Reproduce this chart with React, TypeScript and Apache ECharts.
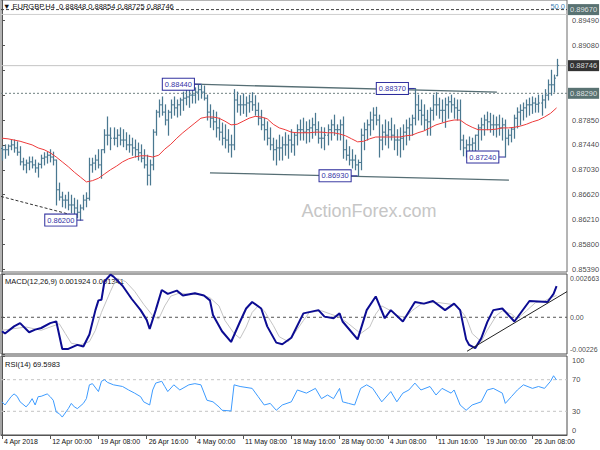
import React, { useEffect, useRef } from 'react';
import * as echarts from 'echarts';

// ---- x axis (one point = 8 hours = two H4 bars) ----
const tickLabels = ['4 Apr 2018', '12 Apr 00:00', '19 Apr 08:00', '26 Apr 16:00', '4 May 00:00', '11 May 08:00', '18 May 16:00', '28 May 00:00', '4 Jun 08:00', '11 Jun 16:00', '19 Jun 00:00', '26 Jun 08:00'];
const tickStep = 16;

// ---- price panel ----
const priceTicks = [0.8539, 0.858, 0.8621, 0.8662, 0.8703, 0.8744, 0.8785, 0.8826, 0.8867, 0.8908, 0.8949];
// labels of 0.88260 and 0.88670 sit under the price boxes in the reference
const priceLabelValues = [0.8539, 0.858, 0.8621, 0.8662, 0.8703, 0.8744, 0.8785, 0.8908, 0.8949];
const firstOpen = 0.8738;
const highs = [
  0.8741, 0.8744, 0.8744, 0.8752, 0.8752, 0.8749, 0.8741, 0.8722, 0.8719, 0.8724,
  0.8724, 0.8719, 0.8714, 0.8727, 0.8731, 0.8732, 0.8736, 0.8732, 0.8719, 0.8681,
  0.8666, 0.8661, 0.8666, 0.8661, 0.8656, 0.8653, 0.8645, 0.8661, 0.8665, 0.8722,
  0.8722, 0.8727, 0.8736, 0.8736, 0.8769, 0.879, 0.8772, 0.8772, 0.8769, 0.8772,
  0.8769, 0.8764, 0.876, 0.8755, 0.8752, 0.8747, 0.8744, 0.8736, 0.8727, 0.8719,
  0.8769, 0.8801, 0.8818, 0.8823, 0.881, 0.8801, 0.8818, 0.8823, 0.8818, 0.8821,
  0.8831, 0.8835, 0.8838, 0.8839, 0.8838, 0.8843, 0.8844, 0.8841, 0.8826, 0.881,
  0.8801, 0.8798, 0.8788, 0.878, 0.8777, 0.8769, 0.876, 0.8835, 0.8831, 0.8825,
  0.8828, 0.8823, 0.8826, 0.883, 0.8825, 0.8813, 0.8801, 0.8788, 0.8782, 0.8772,
  0.8755, 0.8752, 0.876, 0.8757, 0.8764, 0.876, 0.8769, 0.8764, 0.8777, 0.8785,
  0.8788, 0.8782, 0.8785, 0.8788, 0.8796, 0.8782, 0.8773, 0.8772, 0.8777, 0.8785,
  0.8793, 0.8777, 0.8785, 0.879, 0.8752, 0.8741, 0.8736, 0.8727, 0.8719, 0.877,
  0.878, 0.8785, 0.8798, 0.8805, 0.8806, 0.8793, 0.8777, 0.8785, 0.8782, 0.8788,
  0.8777, 0.8769, 0.8772, 0.8777, 0.8785, 0.8788, 0.8793, 0.8837, 0.8826, 0.8818,
  0.881, 0.8801, 0.8805, 0.8826, 0.883, 0.8821, 0.8818, 0.8821, 0.8823, 0.8826,
  0.8821, 0.8818, 0.8818, 0.876, 0.8752, 0.8757, 0.8755, 0.876, 0.8777, 0.8788,
  0.8793, 0.8798, 0.8796, 0.8793, 0.879, 0.8793, 0.8788, 0.8785, 0.8769, 0.8772,
  0.8793, 0.8805, 0.881, 0.8813, 0.8818, 0.8821, 0.8823, 0.8821, 0.8826, 0.8826,
  0.8835, 0.8851, 0.8867, 0.8859, 0.8885,
];
const lows = [
  0.8719, 0.8722, 0.8727, 0.8736, 0.8732, 0.8727, 0.8711, 0.8703, 0.8698, 0.8703,
  0.8706, 0.8699, 0.8691, 0.8706, 0.8711, 0.8714, 0.8716, 0.8711, 0.8645, 0.8653,
  0.8642, 0.864, 0.8637, 0.8632, 0.8629, 0.8624, 0.862, 0.8637, 0.8642, 0.8653,
  0.8699, 0.8703, 0.8706, 0.8689, 0.8731, 0.8744, 0.8736, 0.8744, 0.8741, 0.8744,
  0.8741, 0.8736, 0.8732, 0.8727, 0.8724, 0.8719, 0.8716, 0.8706, 0.8678, 0.8678,
  0.8703, 0.876, 0.879, 0.8793, 0.8777, 0.876, 0.8788, 0.8793, 0.879, 0.8793,
  0.8801, 0.881, 0.8806, 0.8813, 0.8813, 0.8818, 0.8821, 0.8818, 0.8785, 0.8773,
  0.8769, 0.8757, 0.8752, 0.8744, 0.8739, 0.8732, 0.8724, 0.8736, 0.8798, 0.8793,
  0.8796, 0.8791, 0.8798, 0.8801, 0.8793, 0.8777, 0.8769, 0.8752, 0.8744, 0.8736,
  0.8719, 0.8711, 0.8719, 0.8719, 0.8727, 0.8722, 0.8732, 0.8727, 0.8744, 0.8752,
  0.8752, 0.8747, 0.8749, 0.8755, 0.876, 0.8747, 0.8739, 0.8736, 0.8744, 0.8752,
  0.876, 0.8752, 0.8752, 0.8722, 0.8719, 0.8711, 0.8706, 0.8703, 0.8693, 0.8703,
  0.8736, 0.8752, 0.876, 0.8769, 0.8777, 0.8724, 0.8736, 0.8744, 0.8739, 0.8752,
  0.8736, 0.8727, 0.8724, 0.8736, 0.8744, 0.8752, 0.876, 0.8777, 0.8785, 0.8777,
  0.8769, 0.876, 0.876, 0.8785, 0.8793, 0.8788, 0.8782, 0.8773, 0.8788, 0.8798,
  0.8788, 0.8785, 0.8736, 0.8726, 0.8724, 0.8727, 0.8724, 0.8727, 0.8736, 0.8752,
  0.876, 0.8769, 0.8765, 0.876, 0.8757, 0.876, 0.8752, 0.8724, 0.8744, 0.8749,
  0.8755, 0.8772, 0.8777, 0.8785, 0.879, 0.8793, 0.8796, 0.8798, 0.8798, 0.8793,
  0.8805, 0.8818, 0.8826, 0.8831, 0.8858,
];
const closes = [
  0.8736, 0.8736, 0.8742, 0.8744, 0.8739, 0.8732, 0.8716, 0.8711, 0.8714, 0.8716,
  0.8711, 0.8706, 0.8712, 0.8722, 0.8724, 0.8727, 0.8724, 0.8719, 0.867, 0.8658,
  0.8653, 0.8653, 0.8645, 0.8645, 0.864, 0.8633, 0.864, 0.8653, 0.8656, 0.8711,
  0.8714, 0.8719, 0.8711, 0.8736, 0.876, 0.876, 0.8755, 0.8755, 0.876, 0.8752,
  0.8752, 0.8744, 0.8744, 0.8739, 0.8736, 0.8731, 0.8722, 0.8711, 0.8694, 0.8711,
  0.8765, 0.8798, 0.881, 0.8798, 0.8785, 0.8798, 0.881, 0.8805, 0.881, 0.8818,
  0.8821, 0.8823, 0.8826, 0.8826, 0.8831, 0.8835, 0.8831, 0.8821, 0.8798, 0.8788,
  0.8782, 0.8772, 0.8765, 0.8755, 0.8752, 0.8744, 0.8744, 0.8818, 0.881, 0.881,
  0.881, 0.8813, 0.8815, 0.881, 0.8801, 0.8788, 0.8777, 0.8769, 0.8755, 0.8744,
  0.8736, 0.8739, 0.8739, 0.8744, 0.8744, 0.8752, 0.8744, 0.876, 0.8769, 0.8769,
  0.8765, 0.8769, 0.8772, 0.8777, 0.8769, 0.8755, 0.8755, 0.876, 0.8769, 0.8777,
  0.8769, 0.8769, 0.8777, 0.8736, 0.8727, 0.8719, 0.8719, 0.8711, 0.8715, 0.876,
  0.8769, 0.8777, 0.8785, 0.8793, 0.8785, 0.8752, 0.8765, 0.876, 0.8769, 0.876,
  0.8752, 0.8752, 0.8755, 0.8765, 0.8772, 0.8777, 0.8788, 0.881, 0.8801, 0.8793,
  0.8785, 0.8782, 0.8801, 0.881, 0.881, 0.8801, 0.8801, 0.881, 0.8815, 0.881,
  0.8805, 0.8801, 0.8752, 0.8739, 0.8744, 0.8744, 0.8747, 0.876, 0.8772, 0.8777,
  0.8785, 0.8782, 0.8777, 0.8777, 0.8777, 0.8772, 0.8777, 0.8755, 0.876, 0.877,
  0.8788, 0.8798, 0.8801, 0.8805, 0.881, 0.881, 0.8813, 0.8811, 0.8813, 0.8818,
  0.8826, 0.8843, 0.8843, 0.8854, 0.8875,
];
// moving average, one value every two points
const maValues = [
  0.8755, 0.8754, 0.8752, 0.875, 0.8747, 0.8744, 0.8739, 0.8736, 0.8731, 0.8724,
  0.8716, 0.8708, 0.8699, 0.8691, 0.8683, 0.8685, 0.8689, 0.8696, 0.8703, 0.8709,
  0.8716, 0.8721, 0.8724, 0.8726, 0.8726, 0.8724, 0.8727, 0.8737, 0.8745, 0.8755,
  0.8764, 0.8772, 0.878, 0.8788, 0.879, 0.879, 0.8788, 0.8783, 0.8777, 0.8778,
  0.8783, 0.8788, 0.8791, 0.879, 0.8787, 0.8778, 0.8772, 0.8769, 0.8765, 0.8764,
  0.8764, 0.8764, 0.8765, 0.8765, 0.8764, 0.8764, 0.8762, 0.8759, 0.8754, 0.8749,
  0.875, 0.8754, 0.8757, 0.8757, 0.8757, 0.8757, 0.8757, 0.8759, 0.876, 0.8764,
  0.8767, 0.8772, 0.8777, 0.878, 0.8783, 0.8785, 0.8785, 0.8778, 0.8773, 0.8769,
  0.8769, 0.8769, 0.877, 0.8772, 0.8772, 0.8773, 0.8775, 0.8778, 0.8782, 0.8785,
  0.879, 0.8796, 0.8805,
];
const topChannel = [[64, 0.8844], [164.2, 0.8831]];
const bottomChannel = [[69, 0.8698], [168.2, 0.8686]];
const supportLine = [[-0.33, 0.8659], [25.2, 0.8626]];
const swingLabels = [[66, 0.8844], [27, 0.862], [118, 0.8693], [137, 0.8837], [167, 0.8724]];
const fibLevel = 0.8967;
const upperLine = 0.8959;
const bidPrice = 0.88746;
const hLine = 0.8829;

// ---- MACD panel ----
const macdTicks = [-0.00226, 0, 0.002663];
const macdTickText = ['-0.00226', '0.00', '0.002663'];
const macdLine = [
  [0, -0.00086], [1, -0.001], [4, -0.00056], [6, -0.00036], [9, -0.00092], [11, -0.00076], [13, -0.00066],
  [16, -0.00036], [18, -0.00025], [20, -0.00195], [22, -0.00195], [25, -0.0017], [27, -0.0018], [29, -0.00106],
  [31, 0.00044], [32, 0.00104], [33, 0.00108], [34, 0.0022], [36, 0.00262], [37, 0.0025], [40, 0.00194],
  [43, 0.00114], [46, 0.00044], [48, -0.00016], [49, -0.00072], [51, 0.00044], [53, 0.00168], [55, 0.00144],
  [58, 0.00164], [60, 0.00134], [64, 0.00148], [67, 0.00134], [69, 0.00104], [70, 0.00014], [73, -0.00086],
  [76, -0.00152], [79, -0.00026], [81, 0.00054], [83, 0.00094], [86, 0.00054], [88, -0.00056], [91, -0.00156],
  [93, -0.00166], [96, -0.00126], [100, 0.00024], [105, 0.00044], [107, 0.00004], [110, -0.00006], [112, 0.00024],
  [113, -0.00026], [118, -0.00136], [121, 0.00044], [124, 0.00128], [127, -0.00006], [129, 0.00044], [133, -0.00026],
  [137, 0.00094], [140, 0.00084], [143, 0.001], [147, 0.00044], [150, 0.00084], [152, 0.00044], [154, -0.00136],
  [155, -0.0017], [157, -0.0019], [159, -0.0013], [161, -0.0003], [163, 0.00044], [166, 0.00054], [170, -0.00026],
  [175, 0.001], [181, 0.00094], [183, 0.00144], [184, 0.00192],
];
const signalLine = [
  [0, -0.0008], [4, -0.0007], [8, -0.0006], [13, -0.0008], [16, -0.0006], [19, -0.0004], [21, -0.001], [23, -0.0016],
  [26, -0.0017], [29, -0.0015], [31, -0.0008], [33, 0.0003], [36, 0.0016], [38, 0.0024], [41, 0.0022], [44, 0.0016],
  [47, 0.0008], [50, 0.0001], [52, -0.0001], [54, 0.0007], [56, 0.0013], [59, 0.0015], [62, 0.0014], [66, 0.0014],
  [69, 0.0012], [72, 0.0007], [74, -0.0002], [77, -0.001], [79, -0.0013], [81, -0.0006], [83, 0.0003], [85, 0.0007],
  [87, 0.0004], [90, -0.0005], [92, -0.0012], [95, -0.0015], [97, -0.001], [100, -0.0002], [102, 0.0003], [106, 0.0004],
  [109, 0.0002], [112, 0], [115, -0.0004], [119, -0.001], [122, -0.0006], [124, 0.0002], [126, 0.0007], [129, 0.0004],
  [131, 0.0001], [134, 0], [136, 0.0004], [139, 0.0008], [142, 0.0009], [145, 0.0009], [149, 0.0008], [151, 0.0007],
  [154, 0], [156, -0.001], [159, -0.0015], [161, -0.0008], [164, 0.0001], [166, 0.0004], [169, 0.0002], [171, -0.0001],
  [174, 0.0004], [177, 0.0009], [180, 0.001], [182, 0.0012], [184, 0.00134],
];
const macdTrend = [[154.3, -0.00209], [187.46, 0.00158]];

// ---- RSI panel ----
const rsiTicks = [0, 30, 70, 100];
const rsiLine = [
  [0, 42], [1, 38], [3, 48.5], [4, 52], [5, 49], [6, 42], [8, 35.6], [9, 40], [10, 46], [11, 38], [12, 48.5],
  [13, 49], [15, 52], [16, 48.5], [17, 44], [18, 29], [19, 27], [20, 22.7], [22, 33.4], [23, 40], [24, 35.6],
  [25, 33.4], [27, 40], [28, 46], [29, 63.5], [30, 65], [32, 55], [33, 68], [34, 70], [35, 66.6], [37, 63.5],
  [40, 61.4], [42, 57], [44, 53], [46, 48.5], [47, 42], [49, 38], [50, 57], [51, 65.7], [53, 68], [54, 61.4],
  [55, 55], [57, 63.5], [59, 57], [62, 63.5], [64, 65], [66, 63.5], [68, 44], [70, 42], [72, 35.6], [73, 31.3],
  [76, 30.4], [77, 63.5], [79, 61.4], [83, 59], [85, 48.5], [87, 38], [89, 40], [91, 31.3], [93, 38], [96, 42],
  [98, 57], [101, 53], [104, 59], [106, 46], [108, 50.6], [110, 46], [112, 59], [113, 42], [115, 40], [117, 38],
  [119, 59], [121, 63.5], [123, 59], [126, 42], [129, 55], [131, 42], [133, 53], [135, 57], [137, 65.7], [139, 57],
  [142, 61.4], [144, 50.6], [146, 59], [149, 53], [150, 57], [152, 38], [154, 31.3], [156, 38], [159, 42], [161, 57],
  [163, 59], [166, 53], [167, 40], [169, 48.5], [171, 57], [173, 63.5], [176, 59], [178, 61.4], [180, 59], [182, 68],
  [183, 75], [184, 69.6],
];

// ---- layout / style ----
const X_MIN = -0.33;
const X_MAX = 187.46;
const FONT = "'Liberation Sans', Arial, sans-serif";
const BAR = '#4a7890';
const AXIS = '#555555';
const BOX = '#2c2c9c';

function buildOption() {
  const bars = highs.map((h, i) => [i, i === 0 ? firstOpen : closes[i - 1], h, lows[i], closes[i]]);
  const ma = maValues.map((v, k) => [k * 2, v]);
  const tickIdx = tickLabels.map((_, k) => k * tickStep);
  const hidden = { type: 'value', min: X_MIN, max: X_MAX, show: false, splitLine: { show: false } };
  const hline = (grid: number, v: number, color: string, type: any, width = 1) => ({
    type: 'line', xAxisIndex: grid, yAxisIndex: grid, silent: true, symbol: 'none', z: 1,
    data: [[X_MIN, v], [X_MAX, v]], lineStyle: { color, type, width },
  });
  const seg = (grid: number, data: number[][], color: string, width: number, type: any = 'solid') => ({
    type: 'line', xAxisIndex: grid, yAxisIndex: grid, silent: true, symbol: 'none', z: 3,
    data, lineStyle: { color, width, type },
  });
  const priceBox = (v: number, bg: string) => ({
    type: 'scatter', xAxisIndex: 0, yAxisIndex: 0, silent: true, clip: false, symbolSize: 0, z: 10,
    data: [[X_MAX, v]],
    label: {
      show: true, position: 'right', distance: 1, formatter: () => v.toFixed(5),
      backgroundColor: bg, color: '#ffffff', fontSize: 7.5, fontFamily: FONT, padding: [2, 2, 1, 2],
    },
  });
  // right-hand scale labels, placed at their values on each panel's y scale
  const scaleLabels = (grid: number, values: number[], text: (v: number, k: number) => string, edge: boolean, size: number, dist: number) => ({
    type: 'scatter', xAxisIndex: grid, yAxisIndex: grid, silent: true, clip: false, symbolSize: 0, z: 6,
    data: values.map((v, k) => ({
      value: [X_MAX, v],
      label: { offset: [0, edge && k === 0 ? -4.5 : edge && k === values.length - 1 ? 4.5 : 0] },
    })),
    label: {
      show: true, position: 'right', distance: dist, color: '#111111', fontSize: size, fontFamily: FONT,
      formatter: (p: any) => text(p.value[1], p.dataIndex),
    },
  });
  const yAxisFor = (grid: number, min: number, max: number, ticks: number[]) => ({
    type: 'value', position: 'right', gridIndex: grid, min, max, splitLine: { show: false },
    axisLine: { show: true, lineStyle: { color: AXIS } },
    axisTick: { show: true, customValues: ticks, length: 3, lineStyle: { color: AXIS } },
    axisLabel: { show: false },
  });

  return {
    animation: false,
    backgroundColor: '#ffffff',
    grid: [
      { left: 1, top: 0, width: 566, height: 272, show: true, borderColor: '#6a6a6a', borderWidth: 1 },
      { left: 1, top: 274, width: 566, height: 80, show: true, borderColor: '#4a4a4a', borderWidth: 1 },
      { left: 1, top: 356, width: 566, height: 79, show: true, borderColor: '#4a4a4a', borderWidth: 1 },
    ],
    xAxis: [
      { ...hidden, gridIndex: 0 },
      { ...hidden, gridIndex: 1 },
      {
        type: 'value', gridIndex: 2, min: X_MIN, max: X_MAX, splitLine: { show: false },
        axisLine: { show: true, lineStyle: { color: AXIS } },
        axisTick: { show: true, customValues: tickIdx, length: 4, lineStyle: { color: AXIS } },
        axisLabel: {
          customValues: tickIdx, align: 'left', padding: [0, 0, 0, 2], margin: 3,
          fontSize: 7, fontFamily: FONT, color: '#111111', showMinLabel: true, showMaxLabel: true,
          formatter: (v: number) => tickLabels[Math.round(v / tickStep)] ?? '',
        },
      },
    ],
    yAxis: [
      yAxisFor(0, 0.85345, 0.89828, priceTicks),
      yAxisFor(1, -0.00226, 0.002663, macdTicks),
      yAxisFor(2, 0, 100, rsiTicks),
    ],
    graphic: [
      { type: 'text', x: 3, y: 6, silent: true, style: { text: '▼ EURGBP,H4  0.88848 0.88854 0.88725 0.88746', fill: '#111111', font: `7.5px ${FONT}`, verticalAlign: 'middle' } },
      { type: 'text', x: 5, y: 281, silent: true, style: { text: 'MACD(12,26,9) 0.001924 0.001341', fill: '#111111', font: `7.5px ${FONT}`, verticalAlign: 'middle' } },
      { type: 'text', x: 5, y: 364, silent: true, style: { text: 'RSI(14) 69.5983', fill: '#111111', font: `7.5px ${FONT}`, verticalAlign: 'middle' } },
      { type: 'text', x: 369, y: 211, silent: true, style: { text: 'ActionForex.com', fill: '#c6c6c6', font: `18px ${FONT}`, align: 'center', verticalAlign: 'middle' } },
      { type: 'text', x: 565, y: 10, silent: true, z: 20, style: { text: '50.0', fill: '#4682b4', font: `7.5px ${FONT}`, align: 'right', verticalAlign: 'bottom' } },
    ],
    series: [
      hline(0, upperLine, '#cfcfcf', 'solid'),
      hline(0, fibLevel, '#444444', [3, 2]),
      hline(0, bidPrice, '#c4c4c4', 'solid'),
      hline(0, hLine, '#6f8080', [2, 2]),
      {
        type: 'custom', xAxisIndex: 0, yAxisIndex: 0, silent: true, z: 4,
        data: bars, encode: { x: 0, y: [1, 2, 3, 4] },
        renderItem: (_p: any, api: any) => {
          const i = api.value(0);
          const h = api.value(2);
          const l = api.value(3);
          const o = Math.min(h, Math.max(l, api.value(1)));
          const c = api.value(4);
          const pt = api.coord([i, h]);
          const pb = api.coord([i, l]);
          const po = api.coord([i, o]);
          const pc = api.coord([i, c]);
          const x = Math.round(pt[0]) + 0.5;
          return {
            type: 'group',
            children: [
              { type: 'line', shape: { x1: x, y1: pt[1] - 0.5, x2: x, y2: pb[1] + 0.5 }, style: { stroke: BAR, lineWidth: 1.25 } },
              { type: 'line', shape: { x1: x - 1.5, y1: po[1], x2: x, y2: po[1] }, style: { stroke: BAR, lineWidth: 1 } },
              { type: 'line', shape: { x1: x, y1: pc[1], x2: x + 1.5, y2: pc[1] }, style: { stroke: BAR, lineWidth: 1 } },
            ],
          };
        },
      },
      { type: 'line', xAxisIndex: 0, yAxisIndex: 0, silent: true, symbol: 'none', z: 5, data: ma, lineStyle: { color: '#ee3b3b', width: 1 } },
      seg(0, topChannel, '#566e74', 1.3),
      seg(0, bottomChannel, '#566e74', 1.3),
      seg(0, supportLine, '#333333', 1, [3, 2]),
      {
        type: 'custom', xAxisIndex: 0, yAxisIndex: 0, silent: true, z: 8, clip: false,
        data: swingLabels, encode: { x: 0, y: 1 },
        renderItem: (_p: any, api: any) => {
          const v = api.value(1);
          const p = api.coord([api.value(0), v]);
          const gap = 7;
          return {
            type: 'group',
            children: [
              { type: 'line', shape: { x1: p[0] - gap, y1: p[1], x2: p[0], y2: p[1] }, style: { stroke: BOX, lineWidth: 1 } },
              {
                type: 'text', x: p[0] - gap, y: p[1],
                style: {
                  text: Number(v).toFixed(5), align: 'right', verticalAlign: 'middle', fill: '#3434a6',
                  font: `7.5px ${FONT}`, backgroundColor: '#ffffff', borderColor: BOX, borderWidth: 1, padding: [2, 2, 1, 2],
                },
              },
            ],
          };
        },
      },
      scaleLabels(0, priceLabelValues, (v) => v.toFixed(5), false, 7.5, 5),
      priceBox(fibLevel, '#2f4f4f'),
      priceBox(hLine, '#2f4f4f'),
      priceBox(bidPrice, '#000000'),
      // MACD
      hline(1, 0, '#555555', [3, 3]),
      seg(1, signalLine, '#c4c4c4', 1),
      seg(1, macdLine, '#0c0c92', 2),
      seg(1, macdTrend, '#222222', 1),
      scaleLabels(1, macdTicks, (_v, k) => macdTickText[k], true, 7, 3),
      // RSI
      hline(2, 70, '#c4c4c4', [3, 3]),
      hline(2, 30, '#c4c4c4', [3, 3]),
      seg(2, rsiLine, '#3d9bff', 1),
      scaleLabels(2, rsiTicks, (v) => String(Math.round(v)), true, 7.5, 5),
    ],
  };
}

export default function App() {
  const ref = useRef<HTMLDivElement>(null);
  useEffect(() => {
    if (!ref.current) return;
    const chart = echarts.init(ref.current, null, { renderer: 'svg' });
    chart.setOption(buildOption() as any);
    return () => chart.dispose();
  }, []);
  return <div ref={ref} style={{ position: 'absolute', left: 0, top: 0, width: 600, height: 450 }} />;
}
